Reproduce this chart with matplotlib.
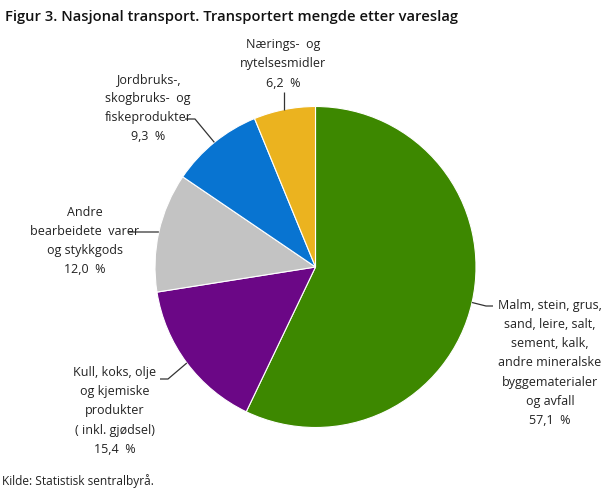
import numpy as np
import matplotlib
matplotlib.use("Agg")
import matplotlib.pyplot as plt

plt.rcParams['font.family'] = ['Open Sans', 'DejaVu Sans']

categories = [
    "Malm, stein, grus,\nsand, leire, salt,\nsement, kalk,\nandre mineralske\nbyggematerialer\nog avfall",
    "Kull, koks, olje\nog kjemiske\nprodukter\n( inkl. gjødsel)",
    "Andre\nbearbeidete  varer\nog stykkgods",
    "Jordbruks-,\nskogbruks-  og\nfiskeprodukter",
    "Nærings-  og\nnytelsesmidler",
]
values = [57.1, 15.4, 12.0, 9.3, 6.2]
value_labels = ["57,1  %", "15,4  %", "12,0  %", "9,3  %", "6,2  %"]
colors = ["#3d8800", "#6b0786", "#c3c3c3", "#0874d1", "#ebb31f"]

H = 489
def py(y):
    return H - y

fig = plt.figure(figsize=(6.08, 4.89), dpi=100)
ax = fig.add_axes([0, 0, 1, 1])
cx, cy, R = 315.5, py(268), 160.5
wedges, _ = ax.pie(values, colors=colors, startangle=90, counterclock=False,
                   center=(cx, cy), radius=R,
                   wedgeprops=dict(edgecolor='white', linewidth=0.8))
ax.set_xlim(0, 608)
ax.set_ylim(0, H)
ax.set_aspect('equal')
ax.axis('off')

# label layout: text centre (x, y pixel), leader path points after edge (pixel)
layout = [
    dict(tx=550, ty=363, path=[(486, 307), (493, 307)]),
    dict(tx=115, ty=411, path=[(168, 380), (160, 380)]),
    dict(tx=85, ty=241, path=[(157, 233), (128, 233)]),
    dict(tx=148, ty=108, path=[(195, 120), (185, 120)]),
    dict(tx=283, ty=64, path=[(None, 93)]),
]

for w, cat, vl, lay in zip(wedges, categories, value_labels, layout):
    th = np.deg2rad((w.theta1 + w.theta2) / 2)
    ex, ey = cx + R * np.cos(th), cy + R * np.sin(th)
    xs, ys = [ex], [ey]
    for (px, pyy) in lay['path']:
        xs.append(ex if px is None else px)
        ys.append(py(pyy))
    ax.plot(xs, ys, color='#333333', lw=0.9, solid_capstyle='butt')
    ax.text(lay['tx'], py(lay['ty']), cat + "\n" + vl, ha='center', va='center',
            ma='center', fontsize=9, color='#222222', linespacing=1.62)

fig.text(5 / 608, 1 - 17 / H, "Figur 3. Nasjonal transport. Transportert mengde etter vareslag",
         ha='left', va='center', fontsize=10.6, fontweight='semibold', color='#111111')
fig.text(2 / 608, 1 - 481 / H, "Kilde: Statistisk sentralbyrå.",
         ha='left', va='center', fontsize=8.6, color='#222222')

fig.savefig("out.png", dpi=100)
